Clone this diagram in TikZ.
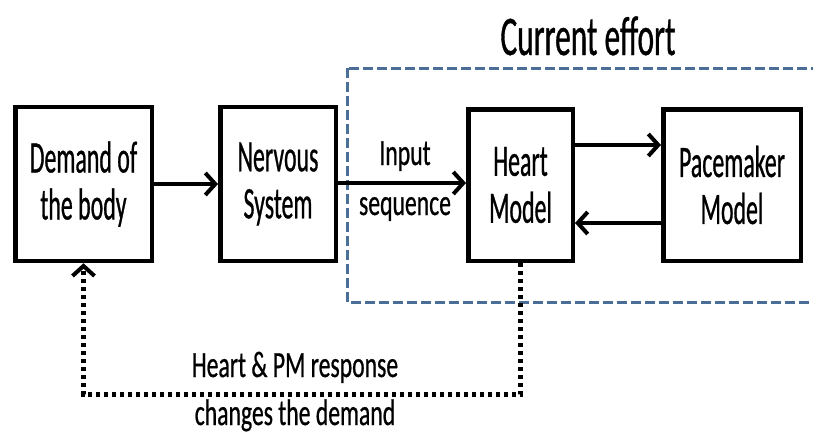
\documentclass[tikz,border=0pt]{standalone}
\usepackage{fontspec}
\setmainfont{Carlito}
\newfontfamily\boxfont[FakeStretch=0.53,FakeBold=0.6]{Carlito}
\newfontfamily\lblfont[FakeStretch=0.64,FakeBold=0.6]{Carlito}
\newfontfamily\titlefont[FakeStretch=0.56,FakeBold=0.6]{Carlito}
\usetikzlibrary{arrows.meta}
\definecolor{dashblue}{HTML}{4A6E96}
\tikzset{
  blk/.style={draw=black, line width=4.5pt, fill=white, inner sep=0pt, align=center,
    font=\boxfont\fontsize{45}{47}\selectfont},
  conn/.style={line width=4pt, -{Straight Barb[length=10pt,width=22pt,line width=4pt]}},
  fb/.style={line width=4.5pt, dash pattern=on 4pt off 4pt,
    -{Straight Barb[length=10pt,width=22pt,line width=4pt]}},
  lbl/.style={font=\lblfont\fontsize{37}{40}\selectfont, inner sep=0pt, anchor=base},
  region/.style={draw=dashblue, line width=3pt, dash pattern=on 10pt off 4pt},
}
\begin{document}
\begin{tikzpicture}[x=1pt,y=-1pt]
\useasboundingbox (0,0) rectangle (813,442);
% dashed region
\draw[region] (347,68) rectangle (840,302);
\node[font=\titlefont\fontsize{56}{60}\selectfont, inner sep=0pt, anchor=base] (title) at (588,55) {Current effort};
% boxes
\node[blk, minimum width=136.5pt, minimum height=154pt] (demand) at (83.5,184) {Demand of\\the body};
\node[blk, minimum width=115.5pt, minimum height=154pt] (nervous) at (278,184) {Nervous\\System};
\node[blk, minimum width=104.5pt, minimum height=151.5pt] (heart) at (520.5,185) {Heart\\Model};
\node[blk, minimum width=137.5pt, minimum height=151.5pt] (pm) at (732,185) {Pacemaker\\Model};
% connectors
\draw[conn] (demand.east) -- (nervous.west);
\draw[conn] ([yshift=1pt]nervous.east) -- ([yshift=1pt]nervous.east -| heart.west);
\draw[conn] ([yshift=40pt]heart.east) -- ([yshift=40pt]heart.east -| pm.west);
\draw[conn] ([yshift=-38pt]pm.west) -- ([yshift=-38pt]pm.west -| heart.east);
\node[lbl] (in1) at (405,165) {Input};
\node[lbl] (in2) at (405,215) {sequence};
% feedback
\draw[fb] (heart.south) |- ([yshift=-131pt]demand.south) -- (demand.south);
\node[lbl] (fb1) at (295,377) {Heart \& PM response};
\node[lbl] (fb2) at (295,425) {changes the demand};
\end{tikzpicture}
\end{document}
